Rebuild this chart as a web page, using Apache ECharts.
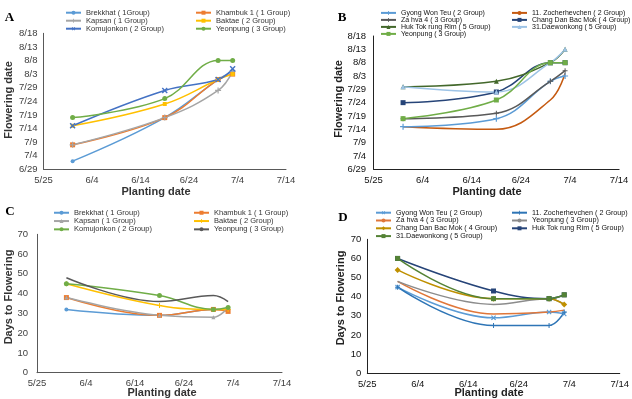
<!DOCTYPE html>
<html>
<head>
<meta charset="utf-8">
<script src="https://cdn.jsdelivr.net/npm/echarts@6/dist/echarts.min.js"></script>
<style>html,body{margin:0;padding:0;background:#fff}#c{width:632px;height:399px}</style>
</head>
<body>
<div id="c"></div>
<script>
// ---------- data ----------
const plantDates = ['5/31', '6/19', '6/30', '7/3'];
const xTickLabels = ['5/25', '6/4', '6/14', '6/24', '7/4', '7/14'];
const dateTickLabels = ['6/29', '7/4', '7/9', '7/14', '7/19', '7/24', '7/29', '8/3', '8/8', '8/13', '8/18'];
const daysTickLabels = ['0', '10', '20', '30', '40', '50', '60', '70'];

// Panel A : flowering date (group 1-3)
const namesA = ['Brekkhat ( 1Group)', 'Khambuk 1 ( 1 Group)', 'Kapsan ( 1 Group)', 'Baktae ( 2 Group)', 'Komujonkon ( 2 Group)', 'Yeonpung ( 3 Group)'];
const brekkhatA = ['7/2', '7/18', '8/1', '8/4'];
const khambukA = ['7/8', '7/18', '8/1', '8/3'];
const kapsanA = ['7/8', '7/18', '7/28', '8/4'];
const baktaeA = ['7/15', '7/23', '8/1', '8/3'];
const komujonkonA = ['7/15', '7/28', '8/1', '8/5'];
const yeonpungA = ['7/18', '7/25', '8/8', '8/8'];

// Panel B : flowering date (group 2-5)
const namesB = ['Gyong Won Teu ( 2 Group)', '11. Zocherhevchen ( 2 Group)', 'Za hva 4 ( 3 Group)', 'Chang Dan Bac Mok ( 4 Group)', 'Huk Tok rung Rim ( 5 Group)', '31.Daewonkong ( 5 Group)', 'Yeonpung ( 3 Group)'];
const gyongB = ['7/15', '7/18', '8/1', '8/3'];
const zocherB = ['7/15', '7/14', '7/25', '8/4'];
const zahvaB = ['7/18', '7/20', '8/1', '8/5'];
const changB = ['7/24', '7/28', '8/8', '8/8'];
const hukB = ['7/30', '8/1', '8/8', '8/13'];
const daewonB = ['7/30', '7/28', '8/8', '8/13'];
const yeonpungB = ['7/18', '7/25', '8/8', '8/8'];

// Panel C : days to flowering (group 1-3)
const namesC = ['Brekkhat ( 1 Group)', 'Khambuk 1 ( 1 Group)', 'Kapsan ( 1 Group)', 'Baktae ( 2 Group)', 'Komujonkon ( 2 Group)', 'Yeonpung ( 3 Group)'];
const brekkhatC = [32, 29, 32, 32];
const khambukC = [38, 29, 32, 31];
const kapsanC = [38, 29, 28, 33];
const baktaeC = [45, 34, 32, 32];
const komujonkonC = [45, 39, 32, 33];
const yeonpungC = [48, 36, 39, 36];

// Panel D : days to flowering (group 2-5)
const namesD = ['Gyong Won Teu ( 2 Group)', '11. Zocherhevchen ( 2 Group)', 'Za hva 4 ( 3 Group)', 'Yeonpung ( 3 Group)', 'Chang Dan Bac Mok ( 4 Group)', 'Huk Tok rung Rim ( 5 Group)', '31.Daewonkong ( 5 Group)'];
const gyongD = [45, 29, 32, 31];
const zocherD = [45, 25, 25, 32];
const zahvaD = [48, 31, 32, 33];
const yeonpungD = [48, 36, 39, 36];
const changD = [54, 39, 39, 36];
const hukD = [60, 43, 39, 41];
const daewonD = [60, 39, 39, 41];

// ---------- helpers ----------
function dayOf(s) {
  const p = s.split('/').map(Number);
  return Date.UTC(2021, p[0] - 1, p[1]) / 864e5;
}
const X0 = dayOf(xTickLabels[0]);
const Y0 = dayOf(dateTickLabels[0]);
const px = plantDates.map(d => dayOf(d) - X0);
const ptsDate = arr => arr.map((d, i) => [px[i], dayOf(d) - Y0]);
const ptsDays = arr => arr.map((v, i) => [px[i], v]);

const PLUS = 'path://M4,0H6V4H10V6H6V10H4V6H0V4H4Z';
// unique suffix per panel so legends map to the right series
const sfx = ['', ' ', '  ', '   '];

function ser(panel, name, data, color, symbol, size, rot) {
  return {
    type: 'line', name: name + sfx[panel], data: data,
    xAxisIndex: panel, yAxisIndex: panel,
    smooth: 0.4, symbol: symbol, symbolSize: size, symbolRotate: rot || 0,
    showSymbol: symbol !== 'none',
    lineStyle: { color: color, width: 1.5 },
    itemStyle: { color: color },
    animation: false
  };
}

const gridsPos = [
  { left: 43.5, top: 33.3, width: 242.5, height: 136 },
  { left: 373.6, top: 36, width: 245.5, height: 133.3 },
  { left: 37, top: 234.3, width: 245, height: 138.4 },
  { left: 367.3, top: 239.3, width: 255, height: 134 }
];
const axisCol = ['#595959', '#222', '#595959', '#222'];
const labCol = ['#404040', '#111', '#404040', '#111'];

const xAxes = gridsPos.map((g, i) => ({
  type: 'value', gridIndex: i, min: 0, max: 50, interval: 10,
  axisLine: { show: true, lineStyle: { color: axisCol[i], width: 1 } },
  axisTick: { show: false }, splitLine: { show: false },
  axisLabel: { color: labCol[i], fontSize: 9.5, margin: 6, fontFamily: 'Liberation Sans',
    formatter: v => xTickLabels[Math.round(v / 10)] }
}));
const yAxes = gridsPos.map((g, i) => {
  const isDate = (i === 0 || i === 1);
  return {
    type: 'value', gridIndex: i, min: 0, max: isDate ? 50 : 70, interval: isDate ? 5 : 10,
    axisLine: { show: true, lineStyle: { color: axisCol[i], width: 1 } },
    axisTick: { show: false }, splitLine: { show: false },
    axisLabel: { color: labCol[i], fontSize: 9.5, fontFamily: 'Liberation Sans',
      margin: [6, 7.5, 9, 6][i],
      formatter: v => isDate ? dateTickLabels[Math.round(v / 5)] : daysTickLabels[Math.round(v / 10)] }
  };
});

const series = [
  ser(0, namesA[0], ptsDate(brekkhatA), '#5B9BD5', 'circle', 4),
  ser(0, namesA[1], ptsDate(khambukA), '#ED7D31', 'rect', 5),
  ser(0, namesA[2], ptsDate(kapsanA), '#A5A5A5', PLUS, 6),
  ser(0, namesA[3], ptsDate(baktaeA), '#FFC000', 'rect', 4),
  ser(0, namesA[4], ptsDate(komujonkonA), '#4472C4', PLUS, 7, 45),
  ser(0, namesA[5], ptsDate(yeonpungA), '#70AD47', 'circle', 5),

  ser(1, namesB[1], ptsDate(zocherB), '#C55A11', 'none', 0),
  ser(1, namesB[0], ptsDate(gyongB), '#5B9BD5', PLUS, 6),
  ser(1, namesB[2], ptsDate(zahvaB), '#595959', PLUS, 5),
  ser(1, namesB[3], ptsDate(changB), '#264478', 'rect', 5),
  ser(1, namesB[4], ptsDate(hukB), '#43682B', 'triangle', 5),
  ser(1, namesB[5], ptsDate(daewonB), '#9DC3E6', 'triangle', 5),
  ser(1, namesB[6], ptsDate(yeonpungB), '#70AD47', 'rect', 5),

  ser(2, namesC[0], ptsDays(brekkhatC), '#5B9BD5', 'circle', 4),
  ser(2, namesC[1], ptsDays(khambukC), '#ED7D31', 'rect', 5),
  ser(2, namesC[2], ptsDays(kapsanC), '#A5A5A5', 'triangle', 4),
  ser(2, namesC[3], ptsDays(baktaeC), '#FFC000', PLUS, 5),
  ser(2, namesC[4], ptsDays(komujonkonC), '#70AD47', 'circle', 5),
  ser(2, namesC[5], ptsDays(yeonpungC), '#595959', 'none', 0),

  ser(3, namesD[0], ptsDays(gyongD), '#5B9BD5', PLUS, 6, 45),
  ser(3, namesD[1], ptsDays(zocherD), '#2E75B6', PLUS, 5),
  ser(3, namesD[2], ptsDays(zahvaD), '#E0773A', 'none', 0),
  ser(3, namesD[3], ptsDays(yeonpungD), '#8C8C8C', 'none', 0),
  ser(3, namesD[4], ptsDays(changD), '#BF9000', 'diamond', 6),
  ser(3, namesD[5], ptsDays(hukD), '#264478', 'rect', 5),
  ser(3, namesD[6], ptsDays(daewonD), '#548235', 'rect', 5)
];

function leg(panel, names, left, top, rowH, fs, color) {
  return {
    orient: 'vertical', left: left, top: top, padding: 0, itemGap: 0,
    itemWidth: 15, itemHeight: 5, selectedMode: false,
    data: names.map(n => n + sfx[panel]),
    textStyle: { fontSize: fs, lineHeight: rowH, color: color, fontFamily: 'Liberation Sans' }
  };
}

const legends = [
  leg(0, [namesA[0], namesA[2], namesA[4]], 65, 8.7, 8, 7.5, '#333'),
  leg(0, [namesA[1], namesA[3], namesA[5]], 195, 8.7, 8, 7.5, '#333'),
  leg(1, [namesB[0], namesB[2], namesB[4], namesB[6]], 380, 9.4, 6.6, 7, '#111'),
  leg(1, [namesB[1], namesB[3], namesB[5]], 511, 9.4, 6.6, 7, '#111'),
  leg(2, [namesC[0], namesC[2], namesC[4]], 53, 208.6, 8.3, 7.5, '#333'),
  leg(2, [namesC[1], namesC[3], namesC[5]], 193, 208.6, 8.3, 7.5, '#333'),
  leg(3, [namesD[0], namesD[2], namesD[4], namesD[6]], 375, 208.8, 7.8, 7.2, '#111'),
  leg(3, [namesD[1], namesD[3], namesD[5]], 511, 208.8, 7.8, 7.2, '#111')
];

function txt(t, x, y, font, rot, color) {
  return { type: 'text', x: x, y: y, rotation: rot || 0, silent: true,
    style: { text: t, font: font, fill: color || '#222', textAlign: 'center', textVerticalAlign: 'middle' } };
}
const TF = 'bold 13px "Liberation Serif"';
const AF = 'bold 11px "Liberation Sans"';
const graphics = [
  txt('A', 9.5, 18, TF, 0, '#000'),
  txt('B', 342, 17.5, TF, 0, '#000'),
  txt('C', 10, 212, TF, 0, '#000'),
  txt('D', 343, 218, TF, 0, '#000'),
  txt('Flowering date', 9, 100, AF, Math.PI / 2, '#333'),
  txt('Planting date', 156, 192, AF, 0, '#333'),
  txt('Flowering date', 339, 99, AF, Math.PI / 2, '#222'),
  txt('Planting date', 487, 192, AF, 0, '#222'),
  txt('Days to Flowering', 8.5, 297, AF, Math.PI / 2, '#333'),
  txt('Planting date', 162, 392.5, AF, 0, '#333'),
  txt('Days to Flowering', 340.5, 298, AF, Math.PI / 2, '#222'),
  txt('Planting date', 489, 392.5, AF, 0, '#222')
];

const chart = echarts.init(document.getElementById('c'), null, { renderer: 'canvas' });
chart.setOption({
  animation: false,
  backgroundColor: '#fff',
  grid: gridsPos.map(g => Object.assign({ containLabel: false }, g)),
  xAxis: xAxes,
  yAxis: yAxes,
  legend: legends,
  series: series,
  graphic: graphics
});
</script>
</body>
</html>
